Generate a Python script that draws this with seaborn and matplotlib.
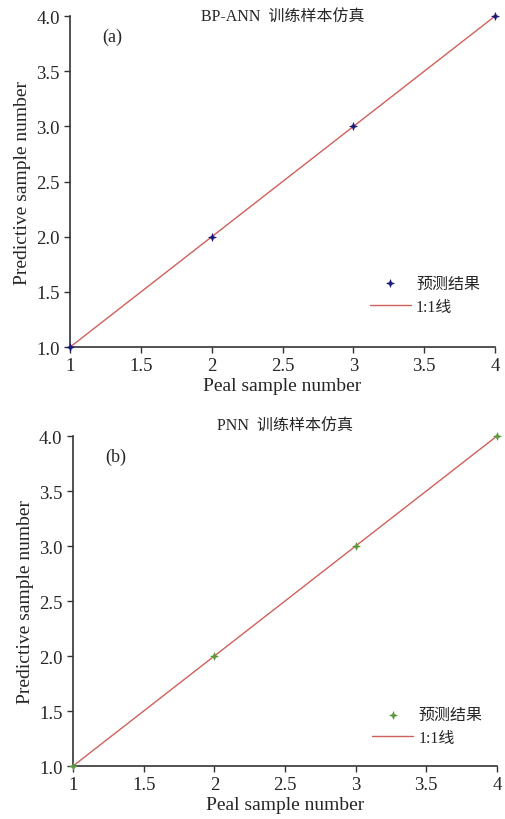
import numpy as np
import pandas as pd
import matplotlib
matplotlib.use("Agg")
import matplotlib.pyplot as plt
import seaborn as sns

real = [1, 2, 3, 4]
pred_bp = [1, 2, 3, 4]
pred_pnn = [1, 2, 3, 4]
line_x = [1, 4]
line_y = [1, 4]

xticks = [1, 1.5, 2, 2.5, 3, 3.5, 4]
xticklabels = ["1", "1.5", "2", "2.5", "3", "3.5", "4"]
yticks = [1.0, 1.5, 2.0, 2.5, 3.0, 3.5, 4.0]

sns.set_style("ticks")
plt.rcParams['font.family'] = ['Liberation Serif', 'Noto Sans CJK SC']
plt.rcParams['axes.unicode_minus'] = False

fig = plt.figure(figsize=(5.05, 8.2), dpi=100)
ax1 = fig.add_axes([0.139, 0.5756, 0.841, 0.4034])
ax2 = fig.add_axes([0.1446, 0.0646, 0.8394, 0.4024])

panels = [
    (ax1, pred_bp, "#1a1a7a", "(a)", "BP-ANN  训练样本仿真", 1.0, 0.157),
    (ax2, pred_pnn, "#5a9a3a", "(b)", "PNN  训练样本仿真", 1.035, 0.12),
]

star = [(0, 1), (0.25, 0.25), (1, 0), (0.25, -0.25), (0, -1), (-0.25, -0.25), (-1, 0), (-0.25, 0.25), (0, 1)]

for ax, pred, col, tag, title, ty, ly in panels:
    df = pd.DataFrame({"real": real, "pred": pred})
    sns.scatterplot(data=df, x="real", y="pred", ax=ax, color=col, marker=star,
                    s=30, edgecolor=col, linewidth=0.5, label="预测结果", zorder=3)
    ln = pd.DataFrame({"x": line_x, "y": line_y})
    sns.lineplot(data=ln, x="x", y="y", ax=ax, color="#d0605a", linewidth=1.0,
                 label="1:1线", zorder=2)
    ax.set_xlim(1, 4)
    ax.set_ylim(1, 4)
    ax.set_xticks(xticks)
    ax.set_xticklabels(xticklabels)
    ax.set_yticks(yticks)
    ax.set_yticklabels([f"{v:.1f}" for v in yticks])
    ax.tick_params(labelsize=13.5, length=4, width=1, color="#333333", direction="out")
    for s in ["left", "bottom"]:
        ax.spines[s].set_color("#333333")
        ax.spines[s].set_linewidth(1.2)
    sns.despine(ax=ax)
    ax.set_xlabel("Peal sample number", fontsize=14, labelpad=2)
    ax.set_ylabel("Predictive sample number", fontsize=14, labelpad=4)
    ax.text(0.5, ty, title, transform=ax.transAxes, ha="center", va="center", fontsize=11.5)
    ax.text(0.1, 0.94, tag, transform=ax.transAxes, ha="center", va="center", fontsize=13)
    for c in ax.collections:
        c.set_clip_on(False)
    for l in ax.lines:
        l.set_clip_on(False)
    ax.legend(loc="center left", bbox_to_anchor=(0.705, ly), frameon=False, fontsize=11.5,
              handlelength=2.6, handletextpad=0.3, labelspacing=0.45,
              borderpad=0, borderaxespad=0)

fig.savefig("out.png", dpi=100)
